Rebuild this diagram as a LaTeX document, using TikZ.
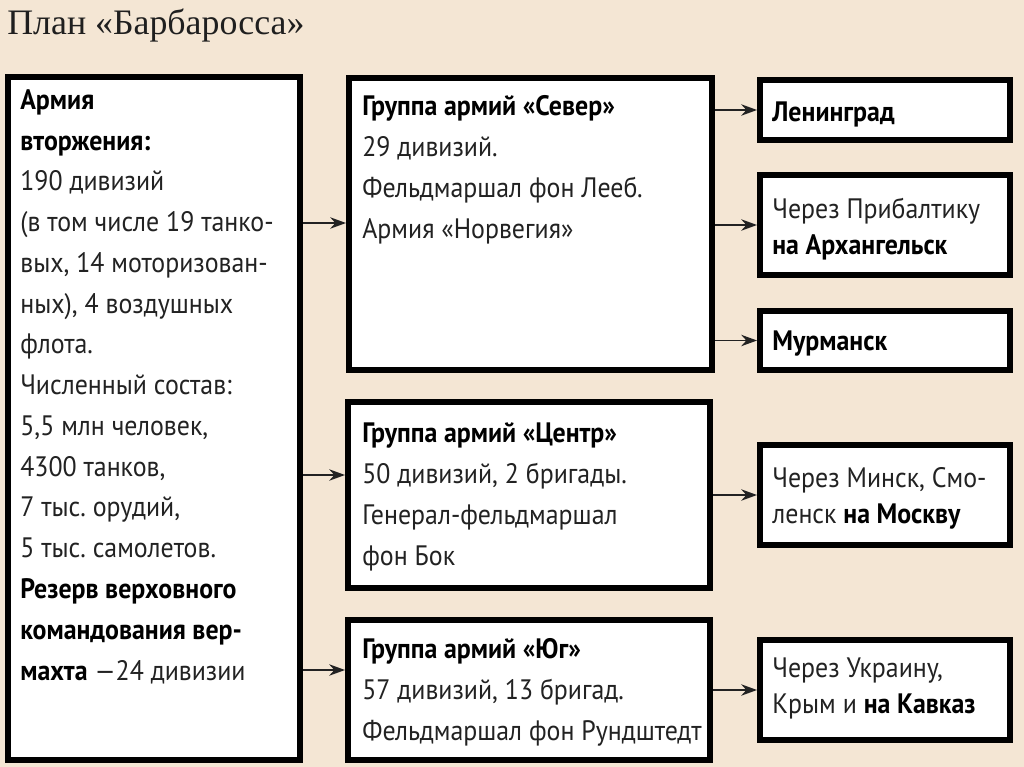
\documentclass[tikz,border=0pt]{standalone}
\usepackage{fontspec}
\setmainfont[FakeStretch=0.92]{PT Sans}
\newfontfamily\titlefont{Liberation Serif}
\usetikzlibrary{fit,arrows.meta}
\definecolor{paper}{RGB}{244,230,212}
\definecolor{ink}{RGB}{34,34,34}
\newcommand{\bk}[1]{\textbf{\color{black}#1}}
\frenchspacing
\begin{document}
\begin{tikzpicture}[x=0.02cm, y=-0.02cm,
    box/.style={draw=black, fill=white, line width=3.4pt, inner sep=0pt},
    txt/.style={anchor=base west, align=left, inner sep=0pt, text=ink,
      font=\fontsize{16pt}{23.2pt}\selectfont},
    dest/.style={txt, font=\fontsize{16pt}{20.2pt}\selectfont},
    arr/.style={-{Stealth[length=9pt,width=6.5pt]}, line width=0.9pt, draw=ink}]
  \fill[paper] (0,0) rectangle (1024,767);
  \useasboundingbox (0,0) rectangle (1024,767);

  \node[anchor=base west, inner sep=0pt, text=ink!90!black,
    font=\titlefont\fontsize{20.4pt}{24pt}\selectfont] (title) at (7,35) {План «Барбаросса»};

  % boxes
  \node[box, fit={(8,77) (300,760)}] (army) {};
  \node[box, fit={(349,78) (712,370)}] (sever) {};
  \node[box, fit={(348,402) (710,588)}] (centr) {};
  \node[box, fit={(348,620) (710,760)}] (yug) {};
  \node[box, fit={(760,80) (1010,140)}] (len) {};
  \node[box, fit={(760,175) (1010,275)}] (arkh) {};
  \node[box, fit={(760,311) (1010,370)}] (murm) {};
  \node[box, fit={(760,445) (1010,545)}] (mosk) {};
  \node[box, fit={(760,640) (1010,740)}] (kavk) {};

  % texts (placed at the baseline of the last line)
  \node[txt] (armytxt) at (20,680) {\bk{Армия}\\ \bk{вторжения:}\\ 190 дивизий\\
    (в том числе 19 танко-\\ вых, 14 моторизован-\\ ных), 4 воздушных\\ флота.\\
    Численный состав:\\ 5,5 млн человек,\\ 4300 танков,\\ 7 тыс. орудий,\\
    5 тыс. самолетов.\\ \bk{Резерв верховного}\\ \bk{командования вер-}\\
    \bk{махта} —24 дивизии};
  \node[txt] (severtxt) at (362,238) {\bk{Группа армий «Север»}\\ 29 дивизий.\\
    Фельдмаршал фон Лееб.\\ Армия «Норвегия»};
  \node[txt] (centrtxt) at (362,565) {\bk{Группа армий «Центр»}\\ 50 дивизий, 2 бригады.\\
    Генерал-фельдмаршал\\ фон Бок};
  \node[txt] (yugtxt) at (362,740) {\bk{Группа армий «Юг»}\\ 57 дивизий, 13 бригад.\\
    Фельдмаршал фон Рундштедт};
  \node[dest] (lentxt) at (772,122) {\bk{Ленинград}};
  \node[dest] (arkhtxt) at (772,254) {Через Прибалтику\\ \bk{на Архангельск}};
  \node[dest] (murmtxt) at (772,350) {\bk{Мурманск}};
  \node[dest] (mosktxt) at (772,523) {Через Минск, Смо-\\ ленск \bk{на Москву}};
  \node[dest] (kavktxt) at (772,713) {Через Украину,\\ Крым и \bk{на Кавказ}};

  % arrows
  \draw[arr] (army.east |- 0,223) -- (sever.west |- 0,223);
  \draw[arr] (army.east |- 0,475) -- (centr.west |- 0,475);
  \draw[arr] (army.east |- 0,670) -- (yug.west |- 0,670);
  \draw[arr] (sever.east |- len.west) -- (len.west);
  \draw[arr] (sever.east |- arkh.west) -- (arkh.west);
  \draw[arr] (sever.east |- murm.west) -- (murm.west);
  \draw[arr] (centr.east |- mosk.west) -- (mosk.west);
  \draw[arr] (yug.east |- kavk.west) -- (kavk.west);
\end{tikzpicture}
\end{document}
